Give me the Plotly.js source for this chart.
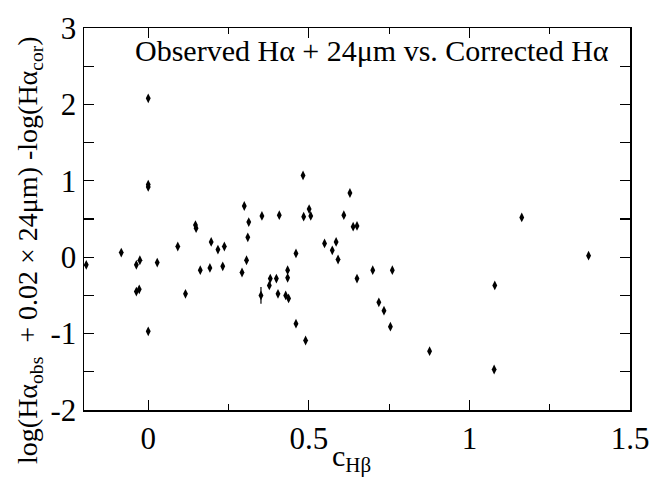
<!DOCTYPE html>
<html>
<head>
<meta charset="utf-8">
<script src="https://cdn.plot.ly/plotly-3.0.1.min.js"></script>
<style>html,body{margin:0;padding:0;background:#fff;}#chart{width:663px;height:485px;}</style>
</head>
<body>
<div id="chart"></div>
<script>
const cHb = [-0.193, -0.084, -0.037, -0.026, -0.037, -0.028, 0.0, 0.0, 0.0, 0.0, 0.028, 0.092, 0.116, 0.147, 0.149, 0.162, 0.196, 0.192, 0.217, 0.237, 0.232, 0.299, 0.313, 0.310, 0.306, 0.292, 0.354, 0.351, 0.377, 0.380, 0.399, 0.408, 0.404, 0.428, 0.437, 0.434, 0.434, 0.460, 0.460, 0.482, 0.490, 0.484, 0.501, 0.506, 0.549, 0.573, 0.585, 0.591, 0.609, 0.628, 0.638, 0.650, 0.650, 0.699, 0.760, 0.718, 0.734, 0.754, 0.876, 1.077, 1.079, 1.163, 1.371];
const dLog = [-0.10, 0.06, -0.10, -0.04, -0.45, -0.42, 2.08, 0.95, 0.92, -0.97, -0.07, 0.14, -0.48, 0.42, 0.38, -0.17, 0.20, -0.14, 0.10, 0.14, -0.12, 0.67, 0.46, 0.26, -0.04, -0.20, 0.54, -0.50, -0.37, -0.28, -0.28, 0.55, -0.48, -0.50, -0.54, -0.17, -0.27, 0.05, -0.87, 1.07, -1.09, 0.53, 0.63, 0.54, 0.18, 0.09, 0.20, -0.03, 0.55, 0.84, 0.40, 0.41, -0.28, -0.17, -0.17, -0.59, -0.70, -0.91, -1.23, -1.47, -0.37, 0.52, 0.02];
const dErr = [0.03, 0.03, 0.03, 0.03, 0.03, 0.03, 0.03, 0.03, 0.03, 0.03, 0.03, 0.03, 0.03, 0.03, 0.03, 0.03, 0.03, 0.03, 0.03, 0.03, 0.03, 0.03, 0.03, 0.03, 0.03, 0.03, 0.03, 0.11, 0.03, 0.03, 0.03, 0.03, 0.03, 0.03, 0.03, 0.03, 0.03, 0.03, 0.03, 0.03, 0.03, 0.03, 0.03, 0.03, 0.03, 0.03, 0.03, 0.03, 0.03, 0.03, 0.03, 0.03, 0.03, 0.03, 0.03, 0.03, 0.03, 0.03, 0.03, 0.03, 0.03, 0.03, 0.03];
const xTicks = [0, 0.5, 1, 1.5];
const xTickText = ['0', '0.5', '1', '1.5'];
const yTicks = [-2, -1, 0, 1, 2, 3];
const yTickText = ['-2', '-1', '0', '1', '2', '3'];

const font = 'Liberation Serif, Times New Roman, serif';
const trace = {
  x: cHb, y: dLog, type: 'scatter', mode: 'markers',
  marker: {symbol: 'diamond-tall', size: 7, color: '#000'},
  error_y: {type: 'data', array: dErr, visible: true, color: '#000', thickness: 1.2, width: 0},
  hoverinfo: 'skip'
};
const axisCommon = {
  showgrid: false, zeroline: false, showline: true, mirror: 'ticks',
  linecolor: '#000', linewidth: 1.5, ticks: 'inside', tickcolor: '#000', tickwidth: 1.2,
  tickfont: {family: font, size: 31, color: '#000'}
};
const layout = {
  width: 663, height: 485,
  margin: {l: 83.5, r: 33, t: 28, b: 75},
  paper_bgcolor: '#fff', plot_bgcolor: '#fff',
  showlegend: false,
  xaxis: Object.assign({}, axisCommon, {
    range: [-0.2, 1.5], tickmode: 'array', tickvals: xTicks, ticktext: xTickText, ticklen: 10,
    minor: {dtick: 0.25, ticks: 'inside', ticklen: 6, tickcolor: '#000', tickwidth: 1.2, showgrid: false}
  }),
  yaxis: Object.assign({}, axisCommon, {
    range: [-2, 3], tickmode: 'array', tickvals: yTicks, ticktext: yTickText, ticklen: 10,
    minor: {dtick: 0.5, ticks: 'inside', ticklen: 10, tickcolor: '#000', tickwidth: 1.2, showgrid: false}
  }),
  annotations: [
    {text: 'Observed Hα + 24μm vs. Corrected Hα', xref: 'paper', yref: 'paper', x: 0.528, y: 0.942,
     xanchor: 'center', yanchor: 'middle', showarrow: false, font: {family: font, size: 30, color: '#000'}},
    {text: 'c<sub>Hβ</sub>', xref: 'paper', yref: 'paper', x: 0.49, y: -0.125,
     xanchor: 'center', yanchor: 'middle', showarrow: false, font: {family: font, size: 30, color: '#000'}},
    {text: 'log(Hα<sub>obs</sub>  + 0.02 × 24μm) -log(Hα<sub>cor</sub>)', xref: 'paper', yref: 'paper',
     x: -0.1, y: 0.42, xanchor: 'center', yanchor: 'middle', textangle: -90, showarrow: false,
     font: {family: font, size: 28, color: '#000'}}
  ]
};
Plotly.newPlot('chart', [trace], layout, {displayModeBar: false, staticPlot: true});
</script>
</body>
</html>
